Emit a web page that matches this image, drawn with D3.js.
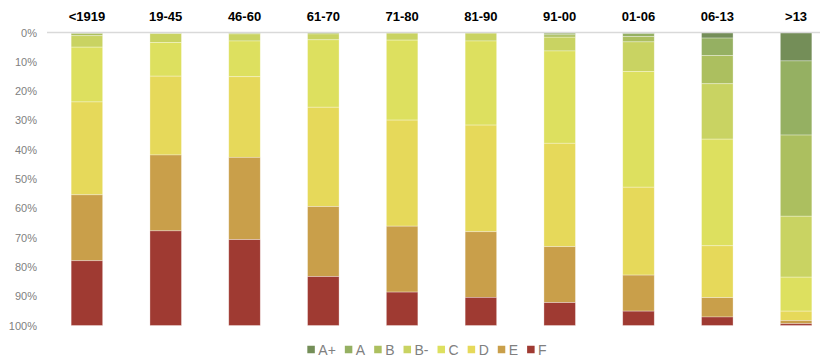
<!DOCTYPE html>
<html>
<head>
<meta charset="utf-8">
<script src="https://cdn.jsdelivr.net/npm/d3@7"></script>
<style>
  html, body { margin: 0; padding: 0; background: #fff; }
  svg { display: block; font-family: "Liberation Sans", Arial, sans-serif; }
</style>
</head>
<body>
<svg id="chart" width="823" height="358"></svg>
<script>
// Construction periods
const categories = ["<1919", "19-45", "46-60", "61-70", "71-80", "81-90", "91-00", "01-06", "06-13", ">13"];

// Energy label shares per period (%)
const grades = ["A+", "A", "B", "B-", "C", "D", "E", "F"];
const aPlus  = [0,    0,    0,    0,    0,    0,    0.2,  0.4,  1.9,  9.7];
const aVal   = [0.3,  0.2,  0.2,  0,    0,    0,    0.6,  1.0,  6.0,  25.3];
const bVal   = [0.8,  0.2,  0.3,  0.5,  0.2,  0.2,  0.8,  1.8,  9.6,  27.7];
const bMinus = [3.9,  3.0,  2.4,  2.0,  2.4,  2.7,  4.7,  10.1, 18.9, 20.8];
const cVal   = [18.7, 11.5, 12.2, 23.0, 27.3, 28.7, 31.5, 39.5, 36.4, 11.6];
const dVal   = [31.7, 26.9, 27.5, 33.9, 36.2, 36.4, 35.3, 30.0, 17.7, 3.2];
const eVal   = [22.5, 25.9, 28.1, 23.9, 22.5, 22.4, 19.1, 12.3, 6.6,  1.1];
const fVal   = [22.1, 32.3, 29.3, 16.7, 11.4, 9.6,  7.8,  4.9,  2.9,  0.6];

const tickValues = [0, 0.1, 0.2, 0.3, 0.4, 0.5, 0.6, 0.7, 0.8, 0.9, 1.0];

const colors = ["#748e58", "#95b062", "#acbf5f", "#c9d362", "#dde05f", "#e6d95a", "#c99f4a", "#9f3a32"];

const seriesArrays = [aPlus, aVal, bVal, bMinus, cVal, dVal, eVal, fVal];
const rows = categories.map((cat, i) => {
  const r = { cat };
  grades.forEach((g, k) => { r[g] = seriesArrays[k][i]; });
  return r;
});

const svg = d3.select("#chart");

const x = d3.scaleBand()
  .domain(categories)
  .range([55, 828])
  .paddingInner(0.6)
  .paddingOuter(0.205);

// 0% at the top, 100% at the bottom
const y = d3.scaleLinear().domain([0, 1]).range([32.5, 325.5]);

const color = d3.scaleOrdinal().domain(grades).range(colors);

const stack = d3.stack().keys(grades).offset(d3.stackOffsetExpand);
const stacked = stack(rows);

// Bars
svg.append("g")
  .selectAll("g")
  .data(stacked)
  .join("g")
    .attr("fill", d => color(d.key))
  .selectAll("rect")
  .data(d => d)
  .join("rect")
    .attr("x", d => x(d.data.cat))
    .attr("width", x.bandwidth())
    .attr("y", d => y(d[0]))
    .attr("height", d => Math.max(0, y(d[1]) - y(d[0])))
    .attr("stroke", "#ffffff")
    .attr("stroke-width", 0.7)
    .attr("stroke-opacity", 0.45);

// Category axis line along the top
svg.append("line")
  .attr("x1", 47).attr("x2", 820)
  .attr("y1", y(0)).attr("y2", y(0))
  .attr("stroke", "#d9d9d9")
  .attr("stroke-width", 1.5);

// Category labels above the bars
svg.append("g")
  .selectAll("text")
  .data(categories)
  .join("text")
    .attr("x", d => x(d) + x.bandwidth() / 2)
    .attr("y", 21)
    .attr("text-anchor", "middle")
    .attr("font-size", 13)
    .attr("font-weight", "bold")
    .attr("fill", "#000")
    .text(d => d);

// Percentage axis
const yAxis = d3.axisLeft(y)
  .tickValues(tickValues)
  .tickFormat(d3.format(".0%"))
  .tickSize(0)
  .tickPadding(0);

const yg = svg.append("g")
  .attr("transform", "translate(37,0)")
  .call(yAxis);
yg.select(".domain").remove();
yg.selectAll("text")
  .attr("font-family", "Liberation Sans, Arial, sans-serif")
  .attr("font-size", 11)
  .attr("fill", "#808080");

// Legend
const legend = svg.append("g");
const items = legend.selectAll("g")
  .data(grades)
  .join("g");
items.append("rect")
  .attr("width", 7.5).attr("height", 7.5)
  .attr("y", -3.75)
  .attr("fill", d => color(d));
items.append("text")
  .attr("x", 11)
  .attr("dy", "0.36em")
  .attr("font-size", 14)
  .attr("fill", "#808080")
  .text(d => d);

const itemGap = 9;
let cursor = 0;
items.each(function () {
  const w = d3.select(this).select("text").node().getComputedTextLength();
  d3.select(this).attr("transform", `translate(${cursor},0)`);
  cursor += 11 + w + itemGap;
});
const totalW = cursor - itemGap;
legend.attr("transform", `translate(${427 - totalW / 2},349.5)`);
</script>
</body>
</html>
